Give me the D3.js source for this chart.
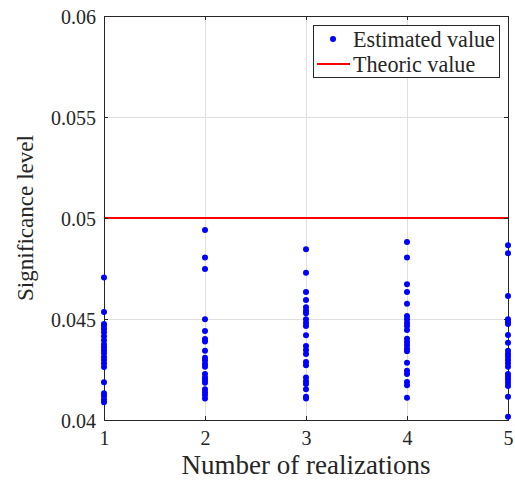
<!DOCTYPE html>
<html><head><meta charset="utf-8">
<script src="https://cdn.jsdelivr.net/npm/d3@7"></script>
<style>html,body{margin:0;padding:0;background:#fff;}</style>
</head><body>
<script>
const realizations = [1, 2, 3, 4, 5];
const xTicks = [1, 2, 3, 4, 5];
const yTicks = [0.04, 0.045, 0.05, 0.055, 0.06];
const yTickLabels = ["0.04", "0.045", "0.05", "0.055", "0.06"];
const theoricValue = 0.05;
const est1 = [0.04706,0.04535,0.04475,0.04465,0.04450,0.04435,0.04415,0.04395,0.04375,0.04360,0.04345,0.04330,0.04312,0.04297,0.04280,0.04262,0.04187,0.04132,0.04119,0.04102,0.04088];
const est2 = [0.04941,0.04805,0.04748,0.04499,0.04441,0.04401,0.04388,0.04343,0.04308,0.04294,0.04277,0.04264,0.04228,0.04211,0.04198,0.04185,0.04152,0.04137,0.04124,0.04107];
const est3 = [0.04845,0.04729,0.04634,0.04594,0.04558,0.04541,0.04528,0.04499,0.04482,0.04465,0.04419,0.04366,0.04347,0.04327,0.04287,0.04271,0.04211,0.04192,0.04178,0.04152,0.04115,0.04107];
const est4 = [0.04881,0.04805,0.04672,0.04634,0.04576,0.04515,0.04499,0.04482,0.04465,0.04446,0.04402,0.04386,0.04370,0.04353,0.04340,0.04284,0.04244,0.04228,0.04188,0.04172,0.04110];
const est5 = [0.04865,0.04825,0.04614,0.04499,0.04485,0.04475,0.04421,0.04383,0.04343,0.04327,0.04313,0.04297,0.04281,0.04264,0.04228,0.04214,0.04201,0.04185,0.04168,0.04115,0.04016];
const estimated = [est1, est2, est3, est4, est5];
const xLabel = "Number of realizations";
const yLabel = "Significance level";
const legendLabels = ["Estimated value", "Theoric value"];

const W = 515, H = 484;
const L = 104, R = 508, T = 16, B = 420;
const FONT = "'Liberation Serif', 'DejaVu Serif', serif";

const svg = d3.select("body").append("svg").attr("width", W).attr("height", H)
  .style("font-family", FONT);

const x = d3.scaleLinear().domain([1, 5]).range([L, R]);
const y = d3.scaleLinear().domain([0.04, 0.06]).range([B, T]);

// grid
const g = svg.append("g");
g.selectAll(".vg").data(xTicks).join("line")
  .attr("x1", d => x(d)).attr("x2", d => x(d)).attr("y1", T).attr("y2", B)
  .attr("stroke", "#dfdfdf").attr("stroke-width", 1).attr("shape-rendering", "crispEdges");
g.selectAll(".hg").data(yTicks).join("line")
  .attr("y1", d => y(d)).attr("y2", d => y(d)).attr("x1", L).attr("x2", R)
  .attr("stroke", "#dfdfdf").attr("stroke-width", 1).attr("shape-rendering", "crispEdges");

// theoric line
svg.append("line").attr("x1", x(1)).attr("x2", x(5))
  .attr("y1", y(theoricValue)).attr("y2", y(theoricValue))
  .attr("stroke", "#ff0000").attr("stroke-width", 2);

// axes
const xAxis = d3.axisBottom(x).tickValues(xTicks).tickSize(-4).tickPadding(10).tickFormat(d3.format("d"));
const yAxis = d3.axisLeft(y).tickValues(yTicks).tickSize(-4).tickPadding(8).tickFormat((d, i) => yTickLabels[i]);
const xa = svg.append("g").attr("transform", `translate(0,${B})`).call(xAxis);
const ya = svg.append("g").attr("transform", `translate(${L},0)`).call(yAxis);
const xaTop = svg.append("g").attr("transform", `translate(0,${T})`).call(d3.axisTop(x).tickValues(xTicks).tickSize(-4).tickFormat(""));
const yaRight = svg.append("g").attr("transform", `translate(${R},0)`).call(d3.axisRight(y).tickValues(yTicks).tickSize(-4).tickFormat(""));
[xa, ya, xaTop, yaRight].forEach(a => {
  a.selectAll("path").attr("stroke", "#262626").attr("stroke-width", 1);
  a.selectAll("line").attr("stroke", "#262626");
  a.selectAll("text").attr("fill", "#262626").style("font-family", FONT).style("font-size", "20px");
});
ya.selectAll("text").attr("dy", "0.35em");
xa.selectAll("text").attr("dy", "0.75em");

// points
const pts = [];
estimated.forEach((arr, i) => arr.forEach(v => pts.push({ r: realizations[i], v })));
svg.append("g").selectAll("circle").data(pts).join("circle")
  .attr("cx", d => x(d.r)).attr("cy", d => y(d.v)).attr("r", 3)
  .attr("fill", "#0000ff");

// labels
function fitText(sel, target) {
  const w = sel.node().getComputedTextLength();
  const fs = parseFloat(sel.style("font-size"));
  sel.style("font-size", (fs * target / w) + "px");
}
const xl = svg.append("text").attr("x", (L + R) / 2).attr("y", 474)
  .attr("text-anchor", "middle").attr("fill", "#262626").style("font-size", "21px").text(xLabel);
fitText(xl, 249);
const yl = svg.append("text").attr("transform", `translate(33,${(T + B) / 2}) rotate(-90)`)
  .attr("text-anchor", "middle").attr("fill", "#262626").style("font-size", "21px").text(yLabel);
fitText(yl, 166);

// legend
const lg = svg.append("g");
lg.append("rect").attr("x", 313.5).attr("y", 25.5).attr("width", 186).attr("height", 52)
  .attr("fill", "#fff").attr("stroke", "#262626").attr("stroke-width", 1);
lg.append("circle").attr("cx", 333).attr("cy", 39).attr("r", 3).attr("fill", "#0000ff");
lg.append("line").attr("x1", 317).attr("x2", 350).attr("y1", 64).attr("y2", 64)
  .attr("stroke", "#ff0000").attr("stroke-width", 2);
const t1 = lg.append("text").attr("x", 353).attr("y", 39).attr("dy", "0.35em")
  .attr("fill", "#262626").style("font-size", "18px").text(legendLabels[0]);
fitText(t1, 142);
const t2 = lg.append("text").attr("x", 353).attr("y", 64).attr("dy", "0.35em")
  .attr("fill", "#262626").style("font-size", t1.style("font-size")).text(legendLabels[1]);
</script>
</body></html>
